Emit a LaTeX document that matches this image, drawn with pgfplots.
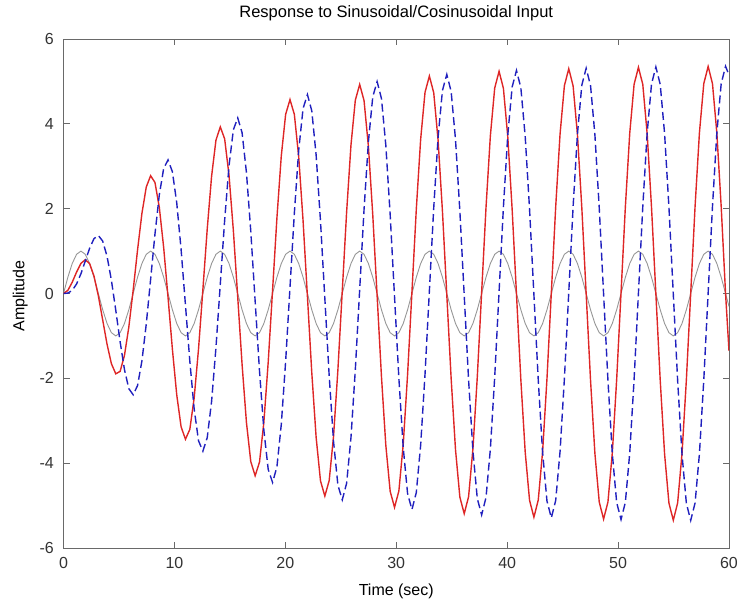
\documentclass[border=0pt]{standalone}
\usepackage{pgfplots}
\usepackage{pgfplotstable}
\pgfplotsset{compat=1.18}
\usepackage{fontspec}
\setmainfont{Liberation Sans}
\definecolor{mred}{RGB}{222,38,38}
\definecolor{mblue}{RGB}{32,32,190}
\definecolor{mgray}{RGB}{150,150,150}
\definecolor{axgray}{RGB}{105,105,105}
\pgfplotstableread{
t r b g
0 0 0 0
0.3927 0.0733 0.0097 0.3827
0.7854 0.2645 0.0732 0.7071
1.1781 0.5056 0.2241 0.9239
1.5708 0.7106 0.4655 1
1.9635 0.7965 0.7665 0.9239
2.3562 0.7036 1.0675 0.7071
2.7489 0.4113 1.2929 0.3827
3.1416 -0.0549 1.3675 0
3.5343 -0.6250 1.2358 -0.3827
3.9270 -1.1970 0.8762 -0.7071
4.3197 -1.6553 0.3107 -0.9239
4.7124 -1.8933 -0.3948 -1
5.1051 -1.8362 -1.1375 -0.9239
5.4978 -1.4578 -1.7946 -0.7071
5.8905 -0.7894 -2.2443 -0.3827
6.2832 0.0820 -2.3878 0
6.6759 1.0248 -2.1704 0.3827
7.0686 1.8845 -1.5938 0.7071
7.4613 2.5092 -0.7212 0.9239
7.8540 2.7767 0.3299 1
8.2467 2.6173 1.4034 0.9239
8.6394 2.0291 2.3290 0.7071
9.0321 1.0817 2.9498 0.3827
9.4248 -0.0918 3.1488 0
9.8175 -1.3140 2.8712 -0.3827
10.2102 -2.3910 2.1358 -0.7071
10.6029 -3.1434 1.0360 -0.9239
10.9956 -3.4364 -0.2725 -1
11.3883 -3.2038 -1.5938 -0.9239
11.7810 -2.4615 -2.7217 -0.7071
12.1737 -1.3074 -3.4729 -0.3827
12.5664 0.0914 -3.7164 0
12.9591 1.5231 -3.3967 0.3827
13.3518 2.7642 -2.5452 0.7071
13.7445 3.6142 -1.2772 0.9239
14.1372 3.9289 0.2230 1
14.5299 3.6443 1.7297 0.9239
14.9226 2.7888 3.0101 0.7071
15.3153 1.4815 3.8606 0.3827
15.7080 -0.0852 4.1395 0
16.1007 -1.6740 3.7907 -0.3827
16.4934 -3.0389 2.8541 -0.7071
16.8861 -3.9637 1.4618 -0.9239
17.2788 -4.2966 -0.1811 -1
17.6715 -3.9749 -1.8266 -0.9239
18.0642 -3.0364 -3.2218 -0.7071
18.4569 -1.6156 -4.1479 -0.3827
18.8496 0.0764 -4.4550 0
19.2423 1.7829 -4.0860 0.3827
19.6350 3.2412 -3.0874 0.7071
20.0277 4.2231 -1.6031 0.9239
20.4204 4.5711 0.1460 1
20.8131 4.2230 1.8954 0.9239
21.2058 3.2237 3.3771 0.7071
21.5984 1.7188 4.3608 0.3827
21.9911 -0.0665 4.6901 0
22.3838 -1.8612 4.3073 -0.3827
22.7765 -3.3899 3.2633 -0.7071
23.1692 -4.4156 1.7111 -0.9239
23.5619 -4.7759 -0.1171 -1
23.9546 -4.4092 -1.9442 -0.9239
24.3473 -3.3653 -3.4910 -0.7071
24.7400 -1.7981 -4.5185 -0.3827
25.1327 0.0567 -4.8653 0
25.5254 1.9175 -4.4732 0.3827
25.9181 3.4994 -3.3961 0.7071
26.3108 4.5584 -1.7935 0.9239
26.7035 4.9287 0.0935 1
27.0962 4.5489 1.9787 0.9239
27.4889 3.4723 3.5745 0.7071
27.8816 1.8590 4.6352 0.3827
28.2743 -0.0476 4.9959 0
28.6670 -1.9578 4.5974 -0.3827
29.0597 -3.5798 3.4961 -0.7071
29.4524 -4.6643 1.8565 -0.9239
29.8451 -5.0426 -0.0743 -1
30.2378 -4.6537 -2.0030 -0.9239
30.6305 -3.5531 -3.6356 -0.7071
31.0232 -1.9057 -4.7217 -0.3827
31.4159 0.0395 -5.0932 0
31.8086 1.9868 -4.6904 0.3827
32.2013 3.6390 -3.5716 0.7071
32.5940 4.7428 -1.9045 0.9239
32.9867 5.1276 0.0588 1
33.3794 4.7323 2.0201 0.9239
33.7721 3.6142 3.6804 0.7071
34.1648 1.9415 4.7857 0.3827
34.5575 -0.0324 5.1656 0
34.9502 -2.0074 4.7600 -0.3827
35.3429 -3.6824 3.6284 -0.7071
35.7356 -4.8010 1.9411 -0.9239
36.1283 -5.1910 -0.0464 -1
36.5210 -4.7912 -2.0320 -0.9239
36.9137 -3.6602 -3.7131 -0.7071
37.3064 -1.9689 -4.8330 -0.3827
37.6991 0.0264 -5.2195 0
38.0918 2.0222 -4.8122 0.3827
38.4845 3.7142 -3.6713 0.7071
38.8772 4.8441 -1.9690 0.9239
39.2699 5.2383 0.0365 1
39.6626 4.8353 2.0402 0.9239
40.0553 3.6950 3.7371 0.7071
40.4480 1.9899 4.8680 0.3827
40.8407 -0.0213 5.2597 0
41.2334 -2.0327 4.8512 -0.3827
41.6261 -3.7376 3.7035 -0.7071
42.0188 -4.8760 1.9902 -0.9239
42.4115 -5.2735 -0.0286 -1
42.8042 -4.8684 -2.0460 -0.9239
43.1969 -3.7213 -3.7546 -0.7071
43.5896 -2.0059 -4.8939 -0.3827
43.9823 0.0171 -5.2896 0
44.3750 2.0401 -4.8805 0.3827
44.7677 3.7548 -3.7278 0.7071
45.1604 4.8997 -2.0064 0.9239
45.5531 5.2998 0.0224 1
45.9458 4.8932 2.0499 0.9239
46.3385 3.7411 3.7674 0.7071
46.7312 2.0182 4.9130 0.3827
47.1239 -0.0137 5.3118 0
47.5166 -2.0454 4.9023 -0.3827
47.9093 -3.7674 3.7461 -0.7071
48.3020 -4.9172 2.0187 -0.9239
48.6947 -5.3193 -0.0175 -1
49.0874 -4.9118 -2.0526 -0.9239
49.4801 -3.7560 -3.7767 -0.7071
49.8728 -2.0275 -4.9272 -0.3827
50.2655 0.0109 -5.3284 0
50.6582 2.0491 -4.9187 0.3827
51.0509 3.7766 -3.7599 0.7071
51.4436 4.9302 -2.0280 0.9239
51.8363 5.3339 0.0136 1
52.2290 4.9257 2.0544 0.9239
52.6217 3.7673 3.7835 0.7071
53.0144 2.0347 4.9376 0.3827
53.4071 -0.0086 5.3407 0
53.7998 -2.0517 4.9309 -0.3827
54.1925 -3.7833 3.7703 -0.7071
54.5852 -4.9398 2.0351 -0.9239
54.9779 -5.3448 -0.0106 -1
55.3706 -4.9361 -2.0556 -0.9239
55.7633 -3.7758 -3.7885 -0.7071
56.1560 -2.0401 -4.9454 -0.3827
56.5487 0.0068 -5.3498 0
56.9414 2.0535 -4.9400 0.3827
57.3341 3.7883 -3.7780 0.7071
57.7268 4.9469 -2.0405 0.9239
58.1195 5.3528 0.0082 1
58.5122 4.9439 2.0564 0.9239
58.9049 3.7822 3.7921 0.7071
59.2976 2.0443 4.9511 0.3827
59.6903 -0.0054 5.3567 0
60 -1.35 5.15 -0.3048
}\data
\begin{document}
\fontsize{16bp}{19bp}\selectfont
\begin{tikzpicture}
\useasboundingbox (0,0) rectangle (738bp,605bp);
\begin{axis}[
  at={(63.5bp,57bp)}, anchor=south west,
  width=665.5bp, height=509bp, scale only axis,
  xmin=0, xmax=60, ymin=-6, ymax=6,
  xtick={0,10,20,30,40,50,60},
  ytick={-6,-4,-2,0,2,4,6},
  tick align=inside, major tick length=6bp,
  axis line style={draw=axgray, line width=0.9bp},
  every tick/.style={draw=axgray, line width=0.9bp},
  /pgf/number format/assume math mode=true,
  ticklabel style={font=\fontsize{16bp}{19bp}\selectfont, text=black!80, inner sep=0pt},
  xticklabel style={anchor=center, yshift=-15bp},
  yticklabel style={anchor=east, xshift=-9.5bp},
  title={Response to Sinusoidal/Cosinusoidal Input},
  title style={at={(axis description cs:0.5,1.039)}, anchor=center, yshift=0bp, inner sep=0pt, font=\fontsize{16.5bp}{19bp}\selectfont},
  xlabel={Time (sec)},
  xlabel style={at={(axis description cs:0.5,-0.0845)}, anchor=center, inner sep=0pt, font=\fontsize{16bp}{19bp}\selectfont},
  ylabel={Amplitude},
  ylabel style={at={(axis description cs:-0.0650,0.495)}, anchor=center, rotate=0, inner sep=0pt, font=\fontsize{16bp}{19bp}\selectfont},
]
\addplot[mgray, line width=0.9bp] table[x=t, y=g] {\data};
\addplot[mred, line width=1.4bp] table[x=t, y=r] {\data};
\addplot[mblue, line width=1.4bp, dash pattern=on 8bp off 4bp] table[x=t, y=b] {\data};
\end{axis}
\end{tikzpicture}
\end{document}
